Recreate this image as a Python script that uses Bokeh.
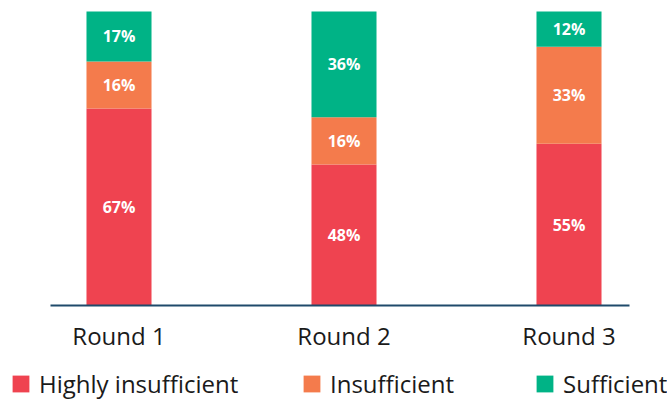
from bokeh.plotting import figure
from bokeh.models import ColumnDataSource, Range1d, FixedTicker, Legend, LegendItem
from bokeh.core.properties import value
from bokeh.embed import file_html
from bokeh.resources import INLINE

categories = ["Round 1", "Round 2", "Round 3"]
highly_insufficient = [67, 48, 55]
insufficient = [16, 16, 33]
sufficient = [17, 36, 12]
series_names = ["Highly insufficient", "Insufficient", "Sufficient"]
colors = ["#EF4350", "#F47B4C", "#00B386"]

x = [i + 0.5 for i in range(len(categories))]
series = [highly_insufficient, insufficient, sufficient]

p = figure(width=667, height=401, output_backend="svg", toolbar_location=None,
           x_range=Range1d(-6 / 225, 661 / 225), y_range=Range1d(-96 / 2.94, 100 + 11 / 2.94),
           min_border=0)
p.outline_line_color = None
p.xgrid.visible = False
p.ygrid.visible = False
p.yaxis.visible = False

renderers = []
bottoms = [0] * len(categories)
for name, vals, col in zip(series_names, series, colors):
    tops = [b + v for b, v in zip(bottoms, vals)]
    src = ColumnDataSource(dict(x=x, bottom=bottoms, top=tops,
                                mid=[(b + t) / 2 for b, t in zip(bottoms, tops)],
                                lab=[f"{v}%" for v in vals]))
    r = p.vbar(x="x", bottom="bottom", top="top", width=0.289, source=src,
               fill_color=col, line_color=None)
    p.text(x="x", y="mid", text="lab", source=src, text_color="white",
           text_font=value("Open Sans"), text_font_style="bold", text_font_size="16px",
           text_align="center", text_baseline="middle")
    renderers.append(r)
    bottoms = tops

ax = p.xaxis[0]
ax.fixed_location = 0
ax.bounds = (0.1956, 2.769)
ax.ticker = FixedTicker(ticks=x)
ax.major_label_overrides = {xi: c for xi, c in zip(x, categories)}
ax.axis_line_color = "#1F4A6B"
ax.axis_line_width = 2
ax.major_tick_line_color = None
ax.minor_tick_line_color = None
ax.major_label_text_font = "Open Sans"
ax.major_label_text_font_size = "24px"
ax.major_label_text_color = "#1a1a1a"
ax.major_label_standoff = 7

positions = [(10, 1), (301, 1), (534, 1)]
for name, r, pos in zip(series_names, renderers, positions):
    lg = Legend(items=[LegendItem(label=name, renderers=[r])], location=pos,
                padding=0, margin=0, border_line_alpha=0, background_fill_alpha=0,
                glyph_width=21, glyph_height=21, label_height=21, label_standoff=8,
                label_text_font="Open Sans", label_text_font_size="24px",
                label_text_color="#1a1a1a")
    p.add_layout(lg, "center")

open("out.html", "w").write(file_html(p, INLINE))
